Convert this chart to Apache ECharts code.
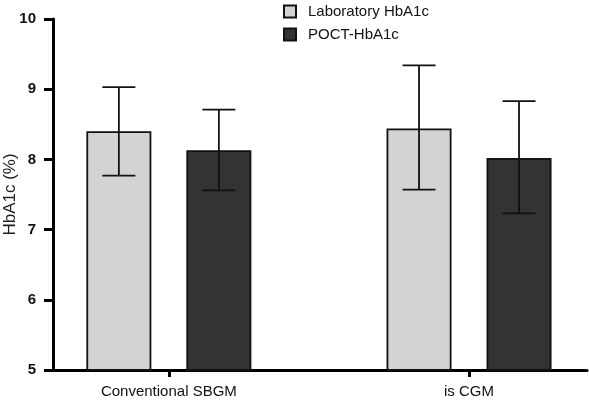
<!DOCTYPE html>
<html>
<head>
<meta charset="utf-8">
<script src="https://cdn.jsdelivr.net/npm/echarts@6/dist/echarts.min.js"></script>
<style>html,body{margin:0;padding:0;background:#fff;}#c{width:589px;height:400px;}</style>
</head>
<body>
<div id="c"></div>
<script>
const categories = ['Conventional SBGM', 'is CGM'];
const seriesNames = ['Laboratory HbA1c', 'POCT-HbA1c'];
const labMean = [8.40, 8.44];
const labHigh = [9.03, 9.34];
const labLow = [7.77, 7.57];
const poctMean = [8.13, 8.02];
const poctHigh = [8.71, 8.83];
const poctLow = [7.56, 7.23];
const yTicks = [5, 6, 7, 8, 9, 10];

const BAR_W = 65, BAR_GAP = 35, CAP = 33;
const FONT = 'Liberation Sans, Arial, Helvetica, sans-serif';

function barData(vals) { return vals.map((v, i) => [i, v]); }
function errData(hi, lo) { return hi.map((h, i) => [i, lo[i], h]); }

function errRender(offset) {
  return function (params, api) {
    const x = api.value(0);
    const lo = api.coord([x, api.value(1)]);
    const hi = api.coord([x, api.value(2)]);
    const cx = lo[0] + offset;
    const style = { stroke: '#111', lineWidth: 1.8 };
    return {
      type: 'group',
      children: [
        { type: 'line', shape: { x1: cx, y1: hi[1], x2: cx, y2: lo[1] }, style: style },
        { type: 'line', shape: { x1: cx - CAP / 2, y1: hi[1], x2: cx + CAP / 2, y2: hi[1] }, style: style },
        { type: 'line', shape: { x1: cx - CAP / 2, y1: lo[1], x2: cx + CAP / 2, y2: lo[1] }, style: style }
      ]
    };
  };
}

const off = (BAR_W + BAR_GAP) / 2;

const chart = echarts.init(document.getElementById('c'), null, { renderer: 'canvas' });
chart.setOption({
  animation: false,
  textStyle: { fontFamily: FONT },
  legend: {
    orient: 'vertical',
    left: 278,
    top: -1,
    icon: 'rect',
    itemWidth: 12,
    itemHeight: 12,
    itemGap: 8,
    data: seriesNames,
    textStyle: { fontSize: 15, color: '#111', fontFamily: FONT, padding: [0, 0, 0, 7] }
  },
  grid: { left: 53, right: 2, top: 19, bottom: 30, containLabel: false, outerBoundsMode: 'none' },
  xAxis: {
    type: 'value',
    min: -0.386,
    max: 1.393,
    splitLine: { show: false },
    axisLine: { onZero: false, lineStyle: { color: '#000', width: 3 } },
    axisTick: { show: true, customValues: [0, 1], length: 7, lineStyle: { color: '#000', width: 3 } },
    axisLabel: {
      customValues: [0, 1],
      formatter: v => categories[Math.round(v)],
      fontSize: 15, color: '#111', margin: 14, fontFamily: FONT
    }
  },
  yAxis: {
    type: 'value',
    min: 5, max: 10, interval: 1,
    name: 'HbA1c (%)',
    nameLocation: 'middle',
    nameGap: 34,
    nameMoveOverlap: false,
    nameTextStyle: { fontSize: 17, color: '#222', fontFamily: FONT },
    splitLine: { show: false },
    axisLine: { show: true, onZero: false, lineStyle: { color: '#000', width: 3 } },
    axisTick: { show: true, length: 9, lineStyle: { color: '#000', width: 3 } },
    axisLabel: { fontSize: 15, fontWeight: 'bold', color: '#111', margin: 17, fontFamily: FONT }
  },
  series: [
    {
      name: seriesNames[0], type: 'bar', data: barData(labMean),
      barWidth: BAR_W, barGap: (BAR_GAP / BAR_W * 100) + '%',
      itemStyle: { color: '#d3d3d3', borderColor: '#111', borderWidth: 1.8 }
    },
    {
      name: seriesNames[1], type: 'bar', data: barData(poctMean),
      barWidth: BAR_W,
      itemStyle: { color: '#333333', borderColor: '#111', borderWidth: 1.8 }
    },
    { type: 'custom', renderItem: errRender(-off), data: errData(labHigh, labLow), z: 5, silent: true },
    { type: 'custom', renderItem: errRender(off), data: errData(poctHigh, poctLow), z: 5, silent: true }
  ]
});
</script>
</body>
</html>
